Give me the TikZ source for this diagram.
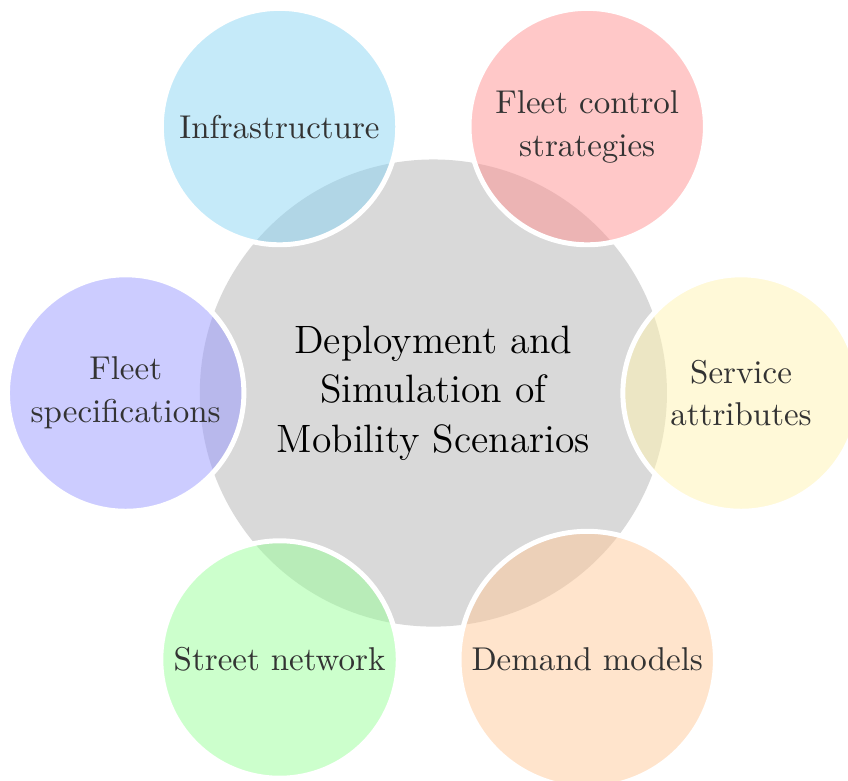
\documentclass[tikz,border=0pt]{standalone}
\usepackage{tikz}
\usetikzlibrary{positioning}
\usepackage{xcolor}
\definecolor{coregray}{RGB}{217,217,217}
\definecolor{infrablue}{RGB}{139,213,243}
\definecolor{controlred}{RGB}{255,145,145}
\definecolor{serviceyellow}{RGB}{255,243,177}
\definecolor{demandorange}{RGB}{255,201,153}
\definecolor{streetgreen}{RGB}{153,255,153}
\definecolor{fleetviolet}{RGB}{153,153,255}
\tikzset{
    core/.style={circle, fill=coregray, minimum size=4.98cm, align=center, font=\fontsize{12}{15}\selectfont},
    aspect/.style={circle, draw=white, line width=1.5pt, fill opacity=0.5, text opacity=1, text=black!80, minimum size=2.52cm, align=center, font=\fontsize{10}{13}\selectfont}
}
\begin{document}
\begin{tikzpicture}
    \useasboundingbox (-4.62,-4.13) rectangle (4.42,4.19);

    % Central topic
    \node[core] (core) at (0,0) {Deployment and\\Simulation of\\Mobility Scenarios};

    % Six aspects around it
    \node[aspect, fill=infrablue] (infra) at (120:3.28) {Infrastructure};
    \node[aspect, fill=controlred] (control) at (60:3.28) {Fleet control\\strategies};
    \node[aspect, fill=serviceyellow] (service) at (0:3.28) {Service\\attributes};
    \node[aspect, fill=demandorange, minimum size=2.73cm] (demand) at (300:3.28) {Demand models};
    \node[aspect, fill=streetgreen] (street) at (240:3.28) {Street network};
    \node[aspect, fill=fleetviolet] (fleet) at (180:3.28) {Fleet\\specifications};
\end{tikzpicture}
\end{document}
